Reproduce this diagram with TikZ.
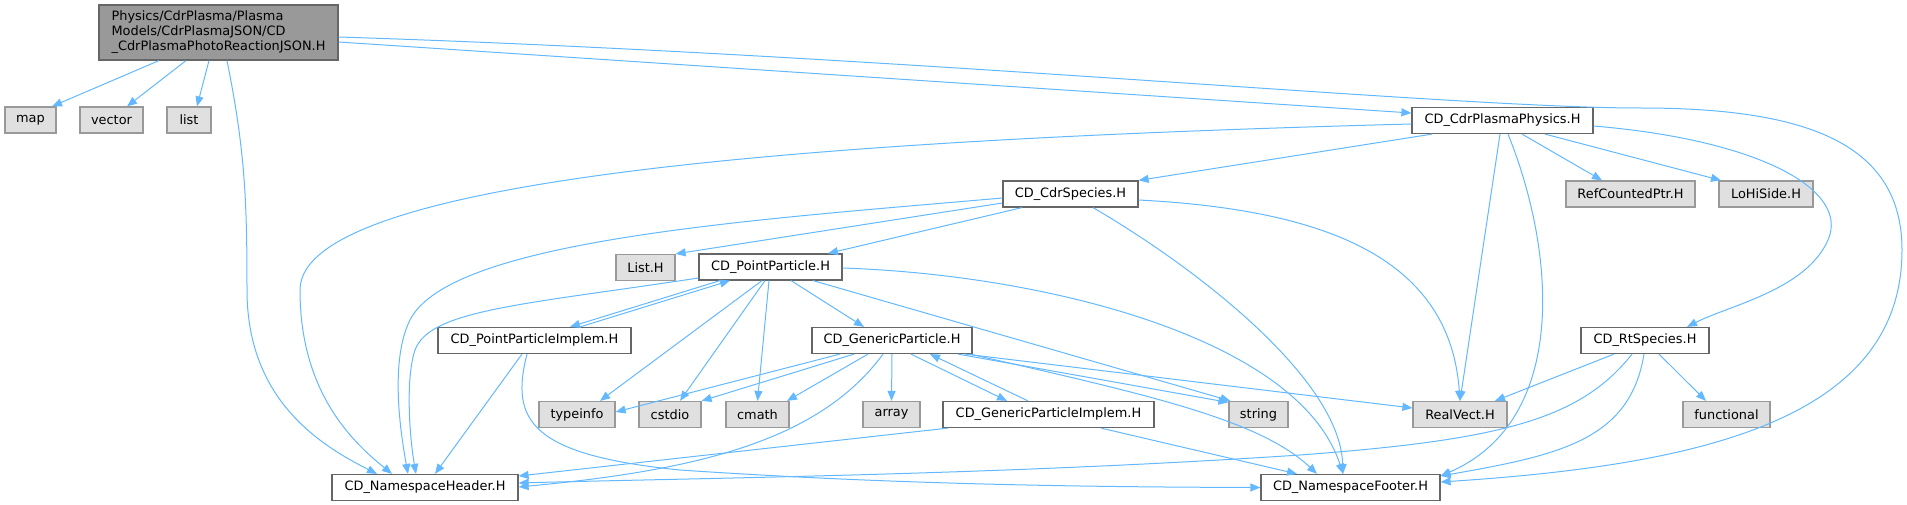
\documentclass[tikz,border=0pt]{standalone}
\usepackage{fontspec}
\setmainfont{DejaVu Sans}
\usetikzlibrary{arrows.meta}
\definecolor{edgec}{HTML}{63B8FF}
\definecolor{bord}{HTML}{666666}
\definecolor{extb}{HTML}{999999}
\definecolor{extf}{HTML}{E0E0E0}
\definecolor{rootf}{HTML}{999999}
\begin{document}
\begin{tikzpicture}[x=1pt,y=-1pt,
  box/.style={draw=bord, fill=white, line width=1.2pt, minimum height=26pt, inner sep=0pt, font=\fontsize{12.9}{15}\selectfont},
  ext/.style={box, draw=extb, fill=extf},
  rootbox/.style={box, fill=rootf, draw=bord, align=left},
  dep/.style={draw=edgec, line width=1pt, -{Triangle[length=10pt,width=8pt]}}
]
\useasboundingbox (0,0) rectangle (1907,505);
% nodes
\node[rootbox, minimum width=239pt, minimum height=55pt] (root) at (218.5,32.5) {Physics/CdrPlasma/Plasma\\Models/CdrPlasmaJSON/CD\\\_CdrPlasmaPhotoReactionJSON.H};
\node[ext, minimum width=51pt] (map) at (30.5,120) {map};
\node[ext, minimum width=63pt] (vector) at (111.5,120) {vector};
\node[ext, minimum width=44pt] (list) at (189,120) {list};
\node[box, minimum width=181pt] (phys) at (1502.5,120.5) {CD\_CdrPlasmaPhysics.H};
\node[ext, minimum width=129pt] (refptr) at (1630.5,194) {RefCountedPtr.H};
\node[ext, minimum width=94pt] (lohi) at (1766,194) {LoHiSide.H};
\node[box, minimum width=135pt] (cdrsp) at (1070.5,194) {CD\_CdrSpecies.H};
\node[ext, minimum width=59pt] (listH) at (645.5,267.5) {List.H};
\node[box, minimum width=143pt] (pp) at (770.5,267) {CD\_PointParticle.H};
\node[box, minimum width=193pt] (ppi) at (534.5,340.5) {CD\_PointParticleImplem.H};
\node[box, minimum width=160pt] (gp) at (892,340.5) {CD\_GenericParticle.H};
\node[box, minimum width=128pt] (rt) at (1645,340.5) {CD\_RtSpecies.H};
\node[ext, minimum width=76pt] (typeinfo) at (577,414.5) {typeinfo};
\node[ext, minimum width=62pt] (cstdio) at (670,414.5) {cstdio};
\node[ext, minimum width=63pt] (cmath) at (757.5,414.5) {cmath};
\node[ext, minimum width=57pt] (array) at (891.5,414.5) {array};
\node[box, minimum width=211pt] (gpi) at (1048.5,414.5) {CD\_GenericParticleImplem.H};
\node[ext, minimum width=59pt] (string) at (1258.5,414.5) {string};
\node[ext, minimum width=94pt] (realvect) at (1460,414.5) {RealVect.H};
\node[ext, minimum width=87pt] (functional) at (1726.5,414.5) {functional};
\node[box, minimum width=186pt] (header) at (425,487.5) {CD\_NamespaceHeader.H};
\node[box, minimum width=179pt] (footer) at (1350.5,487.5) {CD\_NamespaceFooter.H};
% root
\draw[dep] ([xshift=-59.5pt]root.south) -- ([xshift=21.5pt]map.north);
\draw[dep] ([xshift=-32.5pt]root.south) -- ([xshift=15.5pt]vector.north);
\draw[dep] ([xshift=-9.5pt]root.south) -- ([xshift=8pt]list.north);
\draw[dep] ([xshift=8.5pt]root.south) .. controls (245,150) and (247,200) .. (247,290) .. controls (247,400) and (320,445) .. ([xshift=-48pt]header.north);
\draw[dep] ([yshift=-9.5pt]root.east) -- ([yshift=7.5pt]phys.west);
\draw[dep] ([yshift=-4.5pt]root.east) .. controls (900,55) and (1450,108) .. (1640,108) .. controls (1800,108) and (1902,140) .. (1902,250) .. controls (1902,420) and (1700,465) .. ([yshift=5.5pt]footer.east);
% phys
\draw[dep] ([yshift=-3.5pt]phys.west) .. controls (800,140) and (300,180) .. (300,290) .. controls (300,390) and (350,440) .. ([xshift=-33pt]header.north);
\draw[dep] ([xshift=-70.5pt]phys.south) -- (cdrsp.north east);
\draw[dep] ([xshift=-2.5pt]phys.south) -- (realvect.north);
\draw[dep] ([xshift=5.5pt]phys.south) .. controls (1555,250) and (1570,420) .. ([yshift=11.5pt]footer.east);
\draw[dep] ([xshift=19.5pt]phys.south) -- ([xshift=-28.5pt]refptr.north);
\draw[dep] ([xshift=42.5pt]phys.south) -- ([xshift=-45pt]lohi.north);
\draw[dep] ([yshift=-5.5pt]phys.east) .. controls (1760,140) and (1850,190) .. (1828,240) .. controls (1806,290) and (1730,305) .. ([xshift=42pt]rt.north);
% cdrsp
\draw[dep] ([yshift=-4pt]cdrsp.west) .. controls (750,220) and (450,240) .. (410,320) .. controls (390,360) and (400,430) .. ([xshift=-17pt]header.north);
\draw[dep] ([yshift=-9pt]cdrsp.west) -- (listH.north east);
\draw[dep] ([xshift=-48.5pt]cdrsp.south) -- ([xshift=57.5pt]pp.north);
\draw[dep] ([xshift=22.5pt]cdrsp.south) .. controls (1200,270) and (1340,380) .. ([xshift=-7.5pt]footer.north);
\draw[dep] ([yshift=-6pt]cdrsp.east) .. controls (1330,210) and (1450,260) .. (realvect.north);
% pp
\draw[dep] ([yshift=-11pt]pp.west) .. controls (520,305) and (430,310) .. (415,350) .. controls (405,380) and (410,440) .. ([xshift=-9pt]header.north);
\draw[dep] ([xshift=-50.5pt]pp.south) -- ([xshift=35.5pt]ppi.north);
\draw[dep] ([xshift=45.5pt]ppi.north) -- ([xshift=-40.5pt]pp.south);
\draw[dep] ([xshift=-8.5pt]pp.south) -- ([xshift=23pt]typeinfo.north);
\draw[dep] ([xshift=-5.5pt]pp.south) -- ([xshift=10pt]cstdio.north);
\draw[dep] ([xshift=-1.5pt]pp.south) -- (cmath.north);
\draw[dep] ([xshift=20.5pt]pp.south) -- ([xshift=-28pt]gp.north);
\draw[dep] ([xshift=42.5pt]pp.south) -- ([xshift=2pt]string.north west);
\draw[dep] ([yshift=-1pt]pp.east) .. controls (1050,275) and (1300,340) .. ([xshift=-7.5pt]footer.north);
% gp
\draw[dep] ([xshift=-52pt]gp.south) -- ([yshift=2.5pt]typeinfo.east);
\draw[dep] ([xshift=-38pt]gp.south) -- (cstdio.north east);
\draw[dep] ([xshift=-24pt]gp.south) -- ([xshift=29.5pt]cmath.north);
\draw[dep] ([xshift=-9pt]gp.south) .. controls (820,440) and (700,470) .. ([yshift=0.5pt]header.east);
\draw[dep] (gp.south) -- (array.north);
\draw[dep] ([xshift=19pt]gp.south) -- ([xshift=-41.5pt]gpi.north);
\draw[dep] ([xshift=-20.5pt]gpi.north) -- ([xshift=38pt]gp.south);
\draw[dep] ([xshift=66pt]gp.south) -- ([yshift=-1.5pt]string.north west);
\draw[dep] ([xshift=73pt]gp.south) -- ([yshift=6.5pt]realvect.west);
\draw[dep] ([xshift=78pt]gp.south) .. controls (1150,395) and (1260,420) .. ([xshift=-33.5pt]footer.north);
% gpi
\draw[dep] ([xshift=-100.5pt]gpi.south) -- ([yshift=11.5pt]header.east);
\draw[dep] ([xshift=52.5pt]gpi.south) -- ([xshift=-53.5pt]footer.north);
% ppi
\draw[dep] ([xshift=-12.5pt]ppi.south) -- ([xshift=10pt]header.north);
\draw[dep] ([xshift=-7.5pt]ppi.south) .. controls (510,420) and (530,455) .. (680,470) .. controls (900,485) and (1100,487) .. (footer.west);
% rt
\draw[dep] ([xshift=-31pt]rt.south) -- ([xshift=35pt]realvect.north);
\draw[dep] ([xshift=-13pt]rt.south) .. controls (1580,420) and (1500,440) .. (1300,455) .. controls (1000,475) and (700,478) .. ([yshift=4.5pt]header.east);
\draw[dep] ([xshift=-1pt]rt.south) .. controls (1630,440) and (1560,455) .. ([yshift=11.5pt]footer.east);
\draw[dep] ([xshift=14pt]rt.south) -- ([xshift=-20.5pt]functional.north);
\end{tikzpicture}
\end{document}
